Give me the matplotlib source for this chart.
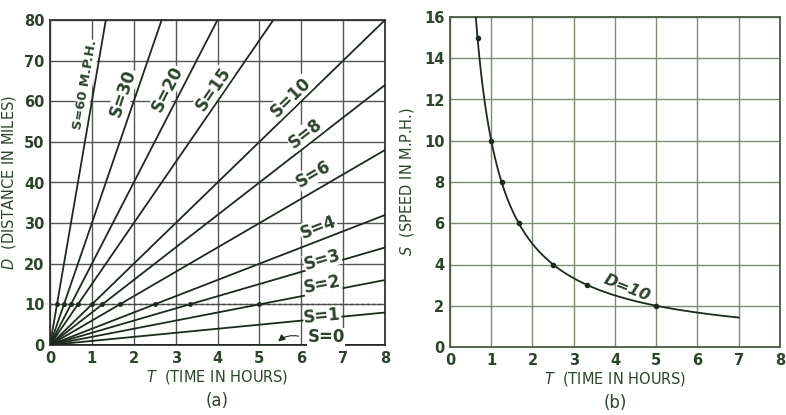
import numpy as np
import matplotlib.pyplot as plt

# panel (a): D = S * T
speeds = [60, 30, 20, 15, 10, 8, 6, 4, 3, 2, 1, 0]
label_text = ["S=60 M.P.H.", "S=30", "S=20", "S=15", "S=10", "S=8", "S=6",
              "S=4", "S=3", "S=2", "S=1", "S=0"]
label_t = [0.85, 1.75, 2.8, 3.9, 5.75, 6.1, 6.3, 6.4, 6.5, 6.5, 6.5, 6.6]
label_d = [64, 62, 63, 63, 61, 52, 42, 29, 21, 15, 7, 2]
d_ref = 10

# panel (b): S = D / T for D = 10
curve_t_end = 7.0
point_t = [0.667, 1.0, 1.25, 1.667, 2.5, 3.333, 5.0]

ink = "#1c2a1c"
txt = "#2c432c"

fig = plt.figure(figsize=(7.86, 4.15), dpi=100)
ax1 = fig.add_axes([50 / 786, 70 / 415, 335 / 786, 325 / 415])
ax2 = fig.add_axes([450 / 786, 68 / 415, 330 / 786, 330 / 415])

# ---- (a)
for s in speeds:
    t = np.linspace(0, 8, 200)
    ax1.plot(t, s * t, color=ink, lw=1.3, zorder=3)
    if s > 0:
        ax1.plot(d_ref / s, d_ref, "o", color=ink, ms=2.5, zorder=4)
ax1.axhline(d_ref, color="#444", lw=1.0, ls=(0, (2, 2)), zorder=2)

for s, lab, lt, ld in zip(speeds, label_text, label_t, label_d):
    ang = np.degrees(np.arctan(s))
    ax1.text(lt, ld, lab, rotation=ang, transform_rotates_text=True,
             rotation_mode="anchor", ha="center", va="center",
             fontsize=12 if s != 60 else 9.5, color=txt, fontweight="bold",
             bbox=dict(facecolor="white", edgecolor="none", pad=0.3), zorder=5)
ax1.annotate("", xy=(5.4, 0.4), xytext=(6.0, 2.0),
             arrowprops=dict(arrowstyle="-|>", color=ink, lw=0.8,
                             connectionstyle="arc3,rad=0.3"))

ax1.set_xlim(0, 8)
ax1.set_ylim(0, 80)
ax1.set_xticks(range(0, 9))
ax1.set_yticks(range(0, 81, 10))
ax1.grid(True, color="#555", lw=1.0)
for sp in ax1.spines.values():
    sp.set_color("#333")
    sp.set_linewidth(1.3)
ax1.tick_params(length=0, labelsize=10.5, colors=txt, pad=4)
for lb in ax1.get_xticklabels() + ax1.get_yticklabels():
    lb.set_fontweight("bold")
ax1.set_xlabel(r"$T$" + "  (TIME IN HOURS)", fontsize=10.5, color=txt, labelpad=2)
ax1.set_ylabel(r"$D$" + "  (DISTANCE IN MILES)", fontsize=10.5, color=txt, labelpad=4)
ax1.text(0.5, -0.172, "(a)", transform=ax1.transAxes, ha="center", va="center",
         fontsize=12, color=txt)

# ---- (b)
t = np.linspace(d_ref / 16, curve_t_end, 300)
ax2.plot(t, d_ref / t, color=ink, lw=1.3, zorder=3)
pt = np.array(point_t)
ax2.plot(pt, d_ref / pt, "o", color=ink, ms=3, zorder=4)
ax2.text(4.3, 2.85, "D=10", rotation=-22, ha="center", va="center",
         fontsize=11.5, color=txt, fontstyle="italic", fontweight="bold", zorder=5)

ax2.set_xlim(0, 8)
ax2.set_ylim(0, 16)
ax2.set_xticks(range(0, 9))
ax2.set_yticks(range(0, 17, 2))
ax2.grid(True, color="#7d8c74", lw=1.0)
for sp in ax2.spines.values():
    sp.set_color("#4a5a44")
    sp.set_linewidth(1.3)
ax2.tick_params(length=0, labelsize=10.5, colors=txt, pad=4)
for lb in ax2.get_xticklabels() + ax2.get_yticklabels():
    lb.set_fontweight("bold")
ax2.set_xlabel(r"$T$" + "  (TIME IN HOURS)", fontsize=10.5, color=txt, labelpad=2)
ax2.set_ylabel(r"$S$" + "  (SPEED IN M.P.H.)", fontsize=10.5, color=txt, labelpad=6)
ax2.text(0.5, -0.17, "(b)", transform=ax2.transAxes, ha="center", va="center",
         fontsize=12, color=txt)

fig.savefig("out.png", dpi=100)
